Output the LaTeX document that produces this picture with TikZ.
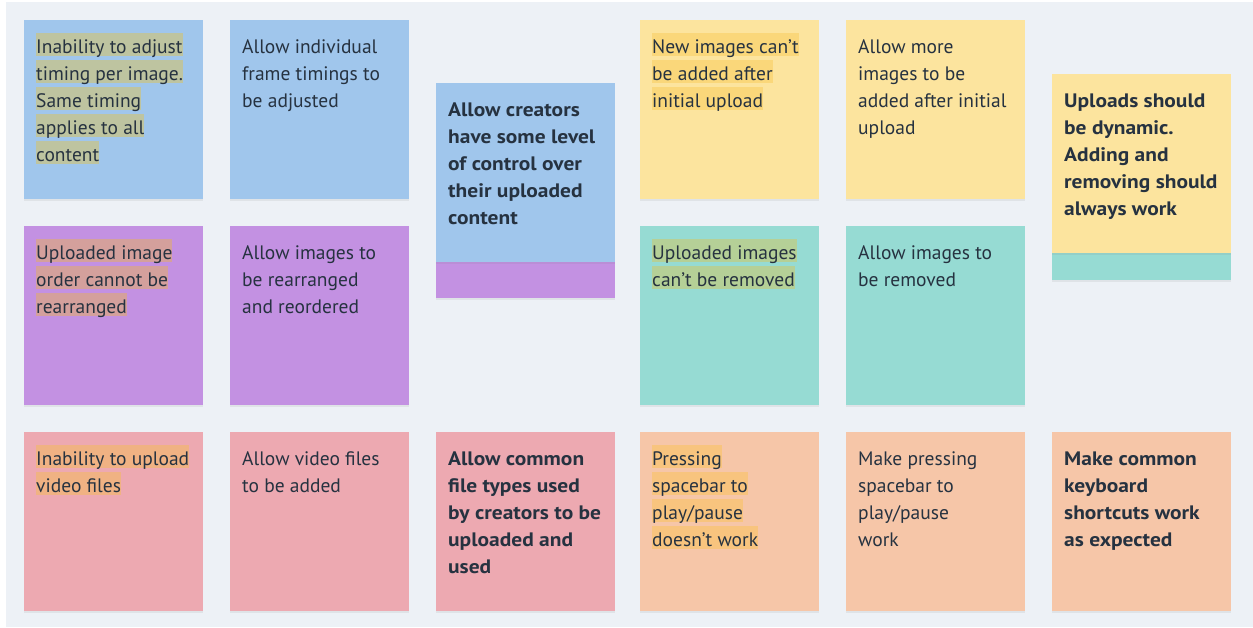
\documentclass[tikz,border=0pt]{standalone}
\usepackage{fontspec}
\setmainfont{PT Sans}[BoldFeatures={FakeStretch=1.1}]
\usetikzlibrary{calc,shadows}

\definecolor{board}{HTML}{EDF1F6}
\definecolor{ink}{HTML}{263240}
\definecolor{nblue}{HTML}{A0C6EC}
\definecolor{npurple}{HTML}{C391E2}
\definecolor{nyellow}{HTML}{FCE49E}
\definecolor{nteal}{HTML}{96DBD3}
\definecolor{npink}{HTML}{EDA9B1}
\definecolor{npeach}{HTML}{F6C6A8}
\definecolor{hlblue}{HTML}{BEC4A0}
\definecolor{hlpurple}{HTML}{D4A09C}
\definecolor{hlyellow}{HTML}{FAD77A}
\definecolor{hlteal}{HTML}{B5D097}
\definecolor{hlpink}{HTML}{F0B283}
\definecolor{hlpeach}{HTML}{F8C47E}

% trailing space kept inside a highlighted line
\newcommand\tsp{\hspace{5pt}}

\tikzset{
  sticky/.style={anchor=north west, minimum width=179pt, minimum height=179pt,
    inner sep=0pt, draw=none,
    drop shadow={shadow xshift=0pt, shadow yshift=-1.5pt, opacity=0.12}},
  noteline/.style={anchor=base west, inner xsep=0pt, inner ysep=0pt,
    text height=20pt, text depth=3pt, text=ink, font=\fontsize{19.5}{23}\selectfont},
  plain/.style={},
  strong/.style={font=\fontsize{19.5}{23}\selectfont\bfseries},
}

% #1 name, #2 x, #3 y, #4 paper colour, #5 line highlight, #6 text style, #7 lines
\newcommand\stickynote[7]{%
  \node[sticky, fill=#4] (#1) at (#2,#3) {};
  \foreach \l [count=\i] in {#7}{
    \node[noteline, fill=#5, #6] (#1-\i) at ($(#1.north west)+(12,33+27*\i-27)$) {\l};
  }
}

\begin{document}
\begin{tikzpicture}[x=1pt, y=-1pt]
  \useasboundingbox (0,0) rectangle (1253,627);
  \fill[white] (0,0) rectangle (1253,627);
  \fill[board] (6,2) rectangle (1253,627);

  % row 1
  \stickynote{timing}{24}{20}{nblue}{hlblue}{plain}{Inability to adjust\tsp,timing per image.,Same timing\tsp,applies to all\tsp,content}
  \stickynote{frames}{230}{20}{nblue}{none}{plain}{Allow individual,frame timings to,be adjusted}
  \stickynote{orderback}{436}{119}{npurple}{none}{plain}{}
  \stickynote{control}{436}{83}{nblue}{none}{strong}{Allow creators,have some level,of control over,their uploaded,content}
  \stickynote{newimg}{640}{20}{nyellow}{hlyellow}{plain}{New images can’t,be added after\tsp,initial upload}
  \stickynote{moreimg}{846}{20}{nyellow}{none}{plain}{Allow more,images to be,added after initial,upload}
  \stickynote{removeback}{1052}{101}{nteal}{none}{plain}{}
  \stickynote{dynamic}{1052}{74}{nyellow}{none}{strong}{Uploads should,be dynamic.,Adding and,removing should,always work}

  % row 2
  \stickynote{order}{24}{226}{npurple}{hlpurple}{plain}{Uploaded image\tsp,order cannot be\tsp,rearranged\tsp}
  \stickynote{rearrange}{230}{226}{npurple}{none}{plain}{Allow images to,be rearranged,and reordered}
  \stickynote{cantremove}{640}{226}{nteal}{hlteal}{plain}{Uploaded images\tsp,can’t be removed}
  \stickynote{remove}{846}{226}{nteal}{none}{plain}{Allow images to,be removed}

  % row 3
  \stickynote{video}{24}{432}{npink}{hlpink}{plain}{Inability to upload,video files}
  \stickynote{addvideo}{230}{432}{npink}{none}{plain}{Allow video files,to be added}
  \stickynote{filetypes}{436}{432}{npink}{none}{strong}{Allow common,file types used,by creators to be,uploaded and,used}
  \stickynote{space}{640}{432}{npeach}{hlpeach}{plain}{Pressing\tsp,spacebar to\tsp,play/pause,doesn’t work}
  \stickynote{spacefix}{846}{432}{npeach}{none}{plain}{Make pressing,spacebar to,play/pause,work}
  \stickynote{shortcuts}{1052}{432}{npeach}{none}{strong}{Make common,keyboard,shortcuts work,as expected}
\end{tikzpicture}
\end{document}
